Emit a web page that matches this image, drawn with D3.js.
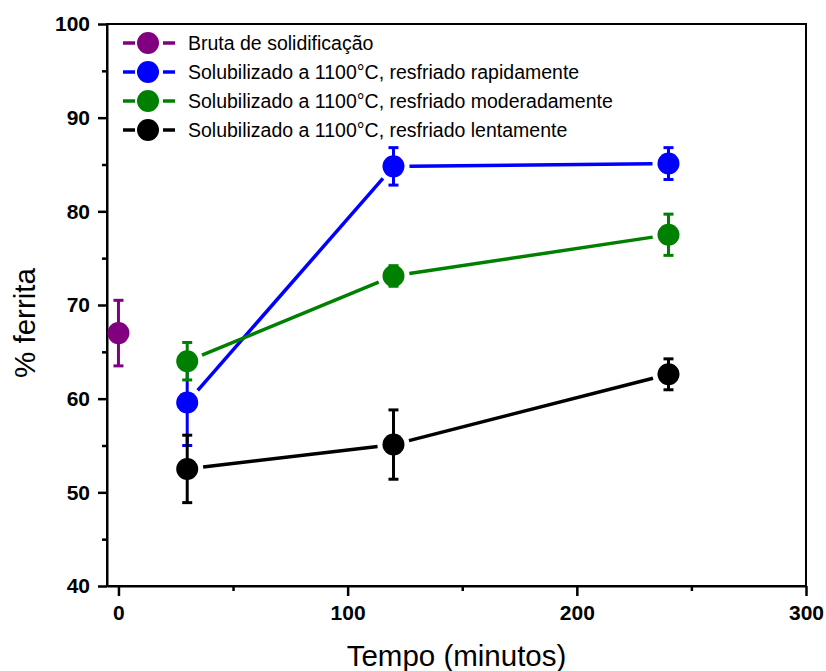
<!DOCTYPE html>
<html>
<head>
<meta charset="utf-8">
<script src="https://cdn.jsdelivr.net/npm/d3@7"></script>
<style>
  body { margin: 0; background: #fff; }
  svg text { font-family: "Liberation Sans", Arial, sans-serif; }
</style>
</head>
<body>
<div id="chart"></div>
<script>
/* DATA */
const seriesNames = [
  'Bruta de solidificação',
  'Solubilizado a 1100°C, resfriado rapidamente',
  'Solubilizado a 1100°C, resfriado moderadamente',
  'Solubilizado a 1100°C, resfriado lentamente'
];
const seriesColors = ['#800080', '#0000ff', '#008000', '#000000'];

const brutaTime = [0];
const brutaFerrita = [67.0];
const brutaErr = [3.5];

const rapidoTime = [30, 120, 240];
const rapidoFerrita = [59.6, 84.8, 85.1];
const rapidoErr = [4.6, 2.0, 1.7];

const moderadoTime = [30, 120, 240];
const moderadoFerrita = [64.0, 73.1, 77.5];
const moderadoErr = [2.0, 1.1, 2.2];

const lentoTime = [30, 120, 240];
const lentoFerrita = [52.5, 55.1, 62.6];
const lentoErr = [3.6, 3.7, 1.65];

const xMajorTicks = [0, 100, 200, 300];
const xMinorTicks = [50, 150, 250];
const yMajorTicks = [40, 50, 60, 70, 80, 90, 100];
const yMinorTicks = [45, 55, 65, 75, 85, 95];

/* CONSTANTS AND GLOBALS */
const W = 826, H = 671;
const margin = { top: 24, right: 20, bottom: 85, left: 107 };
const width = 806 - margin.left;
const height = 586 - margin.top;
const R = 11;      // marker radius
const GAP = 16;    // line stops short of marker

const series = [
  { time: brutaTime, val: brutaFerrita, err: brutaErr },
  { time: rapidoTime, val: rapidoFerrita, err: rapidoErr },
  { time: moderadoTime, val: moderadoFerrita, err: moderadoErr },
  { time: lentoTime, val: lentoFerrita, err: lentoErr }
].map((s, i) => ({
  name: seriesNames[i],
  color: seriesColors[i],
  points: s.time.map((t, j) => ({ t, v: s.val[j], e: s.err[j] }))
}));

const svg = d3.select('#chart')
  .append('svg')
  .attr('width', W)
  .attr('height', H)
  .append('g')
  .attr('transform', `translate(${margin.left}, ${margin.top})`);

const x = d3.scaleLinear().domain([-5, 300]).range([0, width]);
const y = d3.scaleLinear().domain([40, 100]).range([height, 0]);

// frame
svg.append('rect')
  .attr('width', width)
  .attr('height', height)
  .attr('fill', 'none')
  .attr('stroke', '#000')
  .attr('stroke-width', 2);

// axes
svg.append('g')
  .attr('transform', `translate(0, ${height})`)
  .call(d3.axisBottom(x).tickValues(xMajorTicks).tickSize(10).tickSizeOuter(0).tickPadding(9));
svg.append('g')
  .attr('transform', `translate(0, ${height})`)
  .call(d3.axisBottom(x).tickValues(xMinorTicks).tickSize(5).tickFormat(''))
  .call(g => g.select('.domain').remove());

svg.append('g')
  .call(d3.axisLeft(y).tickValues(yMajorTicks).tickSize(9).tickSizeOuter(0).tickPadding(8));
svg.append('g')
  .call(d3.axisLeft(y).tickValues(yMinorTicks).tickSize(5).tickFormat(''))
  .call(g => g.select('.domain').remove());

svg.selectAll('.tick line').attr('stroke-width', 2.5);
svg.selectAll('.domain').attr('stroke-width', 2);
svg.selectAll('.tick text')
  .style('font-size', '21px')
  .style('font-weight', 'bold')
  .attr('fill', '#000');

// axis titles
svg.append('text')
  .attr('x', width / 2)
  .attr('y', 666 - margin.top)
  .attr('text-anchor', 'middle')
  .style('font-size', '29.5px')
  .text('Tempo (minutos)');

svg.append('text')
  .attr('transform', `translate(${35 - margin.left}, ${323 - margin.top}) rotate(-90)`)
  .attr('text-anchor', 'middle')
  .style('font-size', '29.5px')
  .text('% ferrita');

// lines with gaps around markers
series.forEach(s => {
  const segs = [];
  for (let i = 0; i < s.points.length - 1; i++) {
    const x1 = x(s.points[i].t), y1 = y(s.points[i].v);
    const x2 = x(s.points[i + 1].t), y2 = y(s.points[i + 1].v);
    const len = Math.hypot(x2 - x1, y2 - y1);
    const ux = (x2 - x1) / len, uy = (y2 - y1) / len;
    segs.push([x1 + ux * GAP, y1 + uy * GAP, x2 - ux * GAP, y2 - uy * GAP]);
  }
  s.segs = segs;
});

series.forEach(s => {
  const g = svg.append('g');

  g.selectAll('.seg')
    .data(s.segs)
    .enter()
    .append('line')
    .attr('x1', d => d[0]).attr('y1', d => d[1])
    .attr('x2', d => d[2]).attr('y2', d => d[3])
    .attr('stroke', s.color)
    .attr('stroke-width', 3.5);

  // error bars
  const eb = g.selectAll('.err')
    .data(s.points)
    .enter()
    .append('g')
    .attr('stroke', s.color)
    .attr('stroke-width', 3);
  eb.append('line')
    .attr('x1', d => x(d.t)).attr('x2', d => x(d.t))
    .attr('y1', d => y(d.v + d.e)).attr('y2', d => y(d.v - d.e));
  eb.append('line')
    .attr('x1', d => x(d.t) - 5).attr('x2', d => x(d.t) + 5)
    .attr('y1', d => y(d.v + d.e)).attr('y2', d => y(d.v + d.e));
  eb.append('line')
    .attr('x1', d => x(d.t) - 5).attr('x2', d => x(d.t) + 5)
    .attr('y1', d => y(d.v - d.e)).attr('y2', d => y(d.v - d.e));

  g.selectAll('circle')
    .data(s.points)
    .enter()
    .append('circle')
    .attr('cx', d => x(d.t))
    .attr('cy', d => y(d.v))
    .attr('r', R)
    .attr('fill', s.color);
});

// Legend
const legend = svg.selectAll('.legend')
  .data(series)
  .enter()
  .append('g')
  .attr('class', 'legend')
  .attr('transform', (d, i) => `translate(${148 - margin.left}, ${43 + i * 29 - margin.top})`);

legend.append('line')
  .attr('x1', -25).attr('x2', -13)
  .attr('stroke', d => d.color).attr('stroke-width', 3.5);
legend.append('line')
  .attr('x1', 15).attr('x2', 27)
  .attr('stroke', d => d.color).attr('stroke-width', 3.5);
legend.append('circle')
  .attr('r', R)
  .attr('fill', d => d.color);
legend.append('text')
  .attr('x', 40)
  .attr('dy', '0.35em')
  .style('font-size', '19.5px')
  .text(d => d.name);
</script>
</body>
</html>
